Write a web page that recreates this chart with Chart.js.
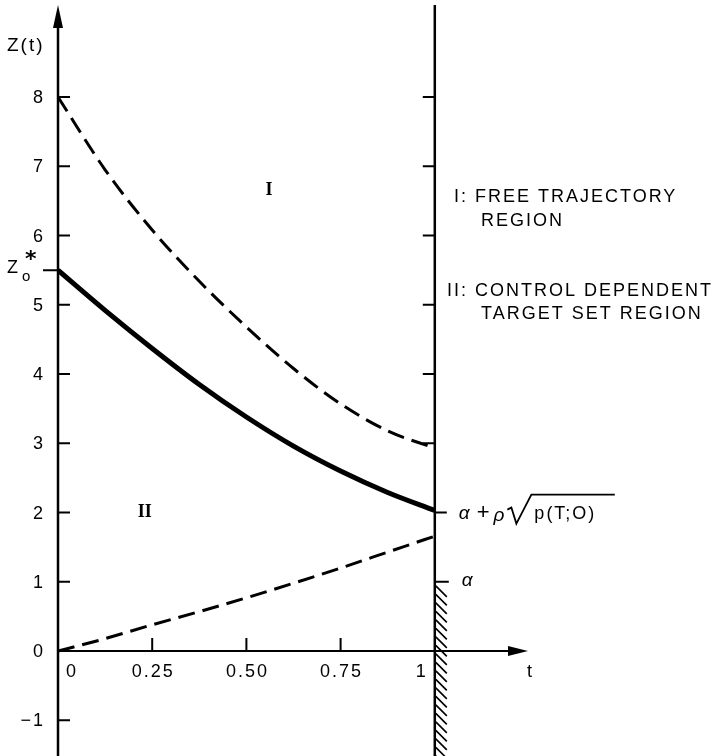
<!DOCTYPE html>
<html>
<head>
<meta charset="utf-8">
<script src="https://cdn.jsdelivr.net/npm/chart.js@4.4.0/dist/chart.umd.min.js"></script>
<style>
  body { margin: 0; background: #fff; }
  canvas { display: block; }
</style>
</head>
<body>
<canvas id="chart" width="711" height="756"></canvas>
<script>
// time grid (t) and the three curves
const tValues = [0, 0.125, 0.25, 0.375, 0.5, 0.625, 0.75, 0.875, 1];
const upperBound = [8, 6.95, 6.08, 5.34, 4.68, 4.08, 3.57, 3.18, 2.93];
const optimalZ = [5.5, 4.92, 4.37, 3.85, 3.38, 2.96, 2.6, 2.29, 2.03];
const lowerBound = [0, 0.18, 0.38, 0.57, 0.77, 0.98, 1.2, 1.43, 1.66];

// axis ticks
const yTicks = [-1, 0, 1, 2, 3, 4, 5, 6, 7, 8];
const yTickLabels = ['\u22121', '0', '1', '2', '3', '4', '5', '6', '7', '8'];
const xTicks = [0.25, 0.5, 0.75];
const xTickLabels = ['0.25', '0.50', '0.75'];
const rightTicks = [3, 4, 5, 6, 7, 8];

// special levels
const zStar = 5.5;
const alphaLevel = 1;
const terminalLevel = 2;
const tFinal = 1;

const pts = ys => tValues.map((t, i) => ({ x: t, y: ys[i] }));

const FONT = '18px "Liberation Sans", Arial, sans-serif';
const ITALIC = 'italic 19px "Liberation Sans", Arial, sans-serif';

// ─── Hand-drawn axes, ticks and annotations ───────────────────────────
const figurePlugin = {
    id: 'figure',
    afterDatasetsDraw(chart) {
        const c = chart.ctx;
        const X = v => chart.scales.x.getPixelForValue(v);
        const Y = v => chart.scales.y.getPixelForValue(v);
        const area = chart.chartArea;
        const x0 = X(0), y0 = Y(0), x1 = X(tFinal);

        c.save();
        c.strokeStyle = '#000';
        c.fillStyle = '#000';
        c.lineCap = 'butt';

        // vertical Z axis with arrow
        c.lineWidth = 2.5;
        c.beginPath();
        c.moveTo(x0, 756);
        c.lineTo(x0, area.top + 10);
        c.stroke();
        c.beginPath();
        c.moveTo(x0, area.top - 2);
        c.lineTo(x0 - 5, area.top + 21);
        c.lineTo(x0 + 5, area.top + 21);
        c.closePath();
        c.fill();

        // horizontal t axis with arrow
        c.lineWidth = 2;
        c.beginPath();
        c.moveTo(x0, y0);
        c.lineTo(area.right - 12, y0);
        c.stroke();
        c.beginPath();
        c.moveTo(area.right - 1, y0);
        c.lineTo(area.right - 21, y0 - 5);
        c.lineTo(area.right - 21, y0 + 5);
        c.closePath();
        c.fill();

        // terminal time line
        c.lineWidth = 2.5;
        c.beginPath();
        c.moveTo(x1, area.top - 2);
        c.lineTo(x1, 756);
        c.stroke();

        // ticks
        c.lineWidth = 2;
        c.beginPath();
        yTicks.forEach(v => {
            if (v === 0) return;
            c.moveTo(x0, Y(v));
            c.lineTo(x0 + 12, Y(v));
        });
        c.moveTo(x0 - 15, Y(zStar));
        c.lineTo(x0, Y(zStar));
        xTicks.forEach(v => {
            c.moveTo(X(v), y0);
            c.lineTo(X(v), y0 - 13);
        });
        rightTicks.forEach(v => {
            c.moveTo(x1 - 12, Y(v));
            c.lineTo(x1, Y(v));
        });
        c.moveTo(x1, Y(terminalLevel));
        c.lineTo(x1 + 12, Y(terminalLevel));
        c.moveTo(x1, Y(alphaLevel));
        c.lineTo(x1 + 14, Y(alphaLevel));
        c.stroke();

        // hatching below alpha
        c.lineWidth = 1.6;
        c.beginPath();
        for (let y = Y(alphaLevel) + 4; y < 756; y += 8.5) {
            c.moveTo(x1 + 1, y);
            c.lineTo(x1 + 12, y + 11);
        }
        c.stroke();

        // text
        c.font = FONT;
        c.letterSpacing = '2px';
        c.textBaseline = 'middle';

        c.textAlign = 'right';
        yTicks.forEach((v, i) => c.fillText(yTickLabels[i], 45, Y(v) + 1));

        c.textAlign = 'center';
        xTicks.forEach((v, i) => c.fillText(xTickLabels[i], X(v) + 1, y0 + 21));
        c.textAlign = 'left';
        c.fillText('0', x0 + 8, y0 + 21);
        c.fillText('1', x1 - 19, y0 + 21);
        c.fillText('t', area.right - 2, y0 + 21);

        c.font = '19px "Liberation Sans", Arial, sans-serif';
        c.fillText('Z(t)', 7, 46);
        c.font = FONT;
        c.fillText('Z', 7, Y(zStar) - 2);
        c.font = '15px "Liberation Sans", Arial, sans-serif';
        c.fillText('o', 22, Y(zStar) + 7);
        c.font = 'bold 22px "DejaVu Sans", sans-serif';
        c.fillText('*', 25, Y(zStar) - 10);

        c.font = FONT;
        c.fillText('I: FREE TRAJECTORY', 454, 197);
        c.fillText('REGION', 481, 221);
        c.fillText('II: CONTROL DEPENDENT', 447, 291);
        c.fillText('TARGET SET REGION', 481, 314);

        // alpha labels on the terminal line
        const ry = Y(terminalLevel);
        c.letterSpacing = '0px';
        c.font = ITALIC;
        c.fillText('\u03b1', x1 + 27, Y(alphaLevel) - 1);
        let px = x1 + 24;
        c.fillText('\u03b1', px, ry + 1);
        px += c.measureText('\u03b1').width + 7;
        c.font = '22px "Liberation Sans", Arial, sans-serif';
        c.fillText('+', px, ry);
        px += c.measureText('+').width + 4;
        c.font = ITALIC;
        c.fillText('\u03c1', px, ry + 3);
        px += c.measureText('\u03c1').width + 3;
        // radical sign over p(T;O)
        c.lineWidth = 1.8;
        c.beginPath();
        c.moveTo(px, ry - 3);
        c.lineTo(px + 4, ry - 5);
        c.lineTo(px + 9, ry + 11);
        c.lineTo(px + 24, ry - 18);
        c.lineTo(x1 + 180, ry - 18);
        c.stroke();
        c.font = FONT;
        c.letterSpacing = '2px';
        c.fillText('p(T;O)', px + 27, ry + 1);

        // region numerals
        c.letterSpacing = '0px';
        c.font = 'bold 18px "Liberation Serif", "DejaVu Serif", serif';
        c.textAlign = 'center';
        c.fillText('I', X(0.56), Y(6.65));
        c.fillText('II', X(0.23), Y(2));

        c.restore();
    }
};

new Chart(document.getElementById('chart'), {
    type: 'line',
    data: {
        datasets: [
            {
                label: 'upper',
                data: pts(upperBound),
                borderColor: '#000',
                borderWidth: 3,
                borderDash: [17, 8],
                pointRadius: 0,
                cubicInterpolationMode: 'monotone',
                fill: false
            },
            {
                label: 'optimal',
                data: pts(optimalZ),
                borderColor: '#000',
                borderWidth: 5,
                pointRadius: 0,
                cubicInterpolationMode: 'monotone',
                fill: false
            },
            {
                label: 'lower',
                data: pts(lowerBound),
                borderColor: '#000',
                borderWidth: 3,
                borderDash: [17, 8],
                pointRadius: 0,
                cubicInterpolationMode: 'monotone',
                fill: false
            }
        ]
    },
    options: {
        responsive: false,
        devicePixelRatio: 1,
        animation: false,
        layout: { padding: { left: 58, right: 182, top: 7, bottom: 1 } },
        plugins: { legend: { display: false }, tooltip: { enabled: false } },
        scales: {
            x: { type: 'linear', min: 0, max: 1.25, display: false },
            y: { type: 'linear', min: -1.5, max: 9.3, display: false }
        }
    },
    plugins: [figurePlugin]
});
</script>
</body>
</html>
